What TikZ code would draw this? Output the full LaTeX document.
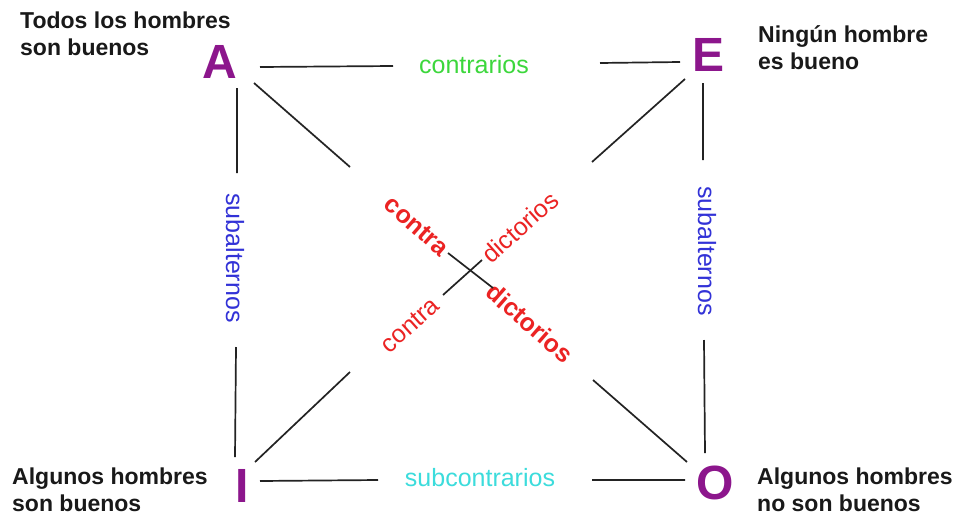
\documentclass[tikz,border=0pt]{standalone}
\usepackage{fontspec}
\setmainfont{Liberation Sans}
\definecolor{lpurple}{RGB}{140,22,140}
\definecolor{txtblack}{RGB}{25,25,25}
\definecolor{linegray}{RGB}{35,35,35}
\definecolor{cgreen}{RGB}{60,215,60}
\definecolor{ccyan}{RGB}{60,220,220}
\definecolor{cblue}{RGB}{50,50,215}
\definecolor{cred}{RGB}{235,35,35}
\begin{document}
\begin{tikzpicture}[x=1pt,y=-1pt,
  letter/.style={font=\fontsize{48}{48}\selectfont\bfseries, text=lpurple, inner sep=0pt},
  statement/.style={font=\fontsize{23}{27}\selectfont\bfseries, text=txtblack, align=left, inner sep=0pt, anchor=north west},
  rel/.style={font=\fontsize{25}{25}\selectfont, inner sep=0pt},
  relbold/.style={font=\fontsize{25}{25}\selectfont\bfseries, inner sep=0pt},
  conn/.style={draw=linegray, line width=1.7pt}]
\useasboundingbox (0,0) rectangle (961,517);
\fill[white] (0,0) rectangle (961,517);

% corner letters
\node[letter] (A) at (220,62) {A};
\node[letter] (E) at (708,55) {E};
\node[letter] (I) at (242,486) {I};
\node[letter] (O) at (715,483) {O};

% statements
\node[statement] (sA) at (20,12) {Todos los hombres\\son buenos};
\node[statement] (sE) at (758,25) {Ningún hombre\\es bueno};
\node[statement] (sI) at (12,468) {Algunos hombres\\son buenos};
\node[statement] (sO) at (757,468) {Algunos hombres\\no son buenos};

% relation labels
\node[rel, text=cgreen] (lAE) at (474,65) {contrarios};
\node[rel, text=ccyan] (lIO) at (480,478) {subcontrarios};
\node[rel, text=cblue, rotate=-90] (lAI) at (235,258) {subalternos};
\node[rel, text=cblue, rotate=-90] (lEO) at (707,251) {subalternos};
\node[relbold, text=cred, rotate=-41.2] (c1) at (417,226) {contra};
\node[relbold, text=cred, rotate=-41.2] (d1) at (530,323) {dictorios};
\node[rel, text=cred, rotate=41.7] (d2) at (520,227) {dictorios};
\node[rel, text=cred, rotate=41.7] (c2) at (410,325) {contra};

% connector end points
\coordinate (ae1) at (260,67); \coordinate (ae2) at (393,66);
\coordinate (ae3) at (600,63); \coordinate (ae4) at (680,62);
\coordinate (ai1) at (237,88); \coordinate (ai2) at (237,173);
\coordinate (ai3) at (236,347); \coordinate (ai4) at (235,457);
\coordinate (eo1) at (703,83); \coordinate (eo2) at (703,160);
\coordinate (eo3) at (704,340); \coordinate (eo4) at (705,453);
\coordinate (io1) at (260,481); \coordinate (io2) at (378,480);
\coordinate (io3) at (592,480); \coordinate (io4) at (685,480);
\coordinate (ao1) at (254,83); \coordinate (ao2) at (350,167);
\coordinate (ao3) at (448,253); \coordinate (ao4) at (493,288);
\coordinate (ao5) at (593,380); \coordinate (ao6) at (687,462);
\coordinate (ei1) at (685,79); \coordinate (ei2) at (592,162);
\coordinate (ei3) at (482,260); \coordinate (ei4) at (443,295);
\coordinate (ei5) at (350,372); \coordinate (ei6) at (255,462);

% connectors
\draw[conn] (ae1) -- (ae2) (ae3) -- (ae4);
\draw[conn] (ai1) -- (ai2) (ai3) -- (ai4);
\draw[conn] (eo1) -- (eo2) (eo3) -- (eo4);
\draw[conn] (io1) -- (io2) (io3) -- (io4);
\draw[conn] (ao1) -- (ao2) (ao3) -- (ao4) (ao5) -- (ao6);
\draw[conn] (ei1) -- (ei2) (ei3) -- (ei4) (ei5) -- (ei6);
\end{tikzpicture}
\end{document}
